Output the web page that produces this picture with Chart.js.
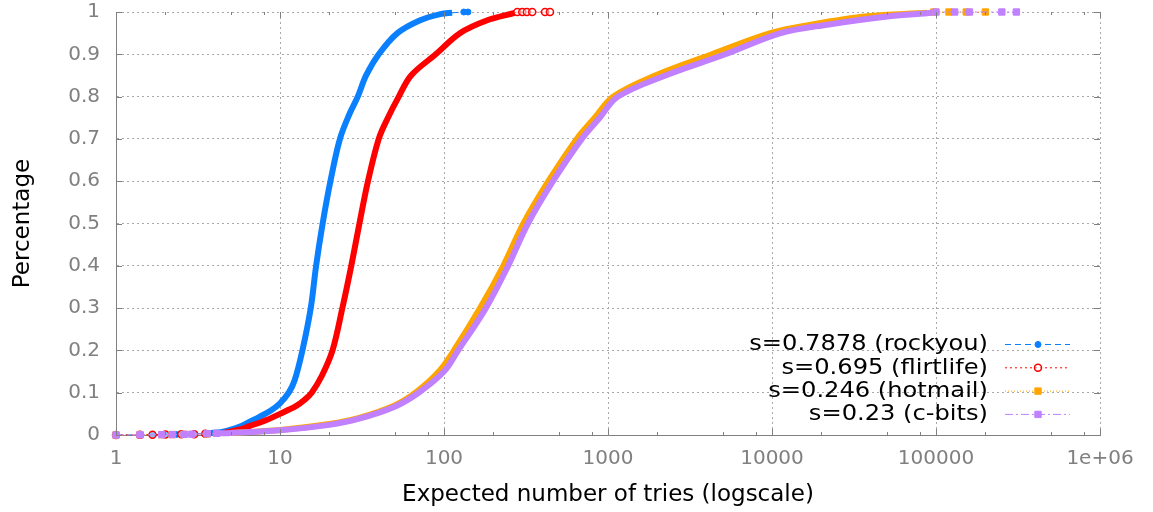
<!DOCTYPE html>
<html>
<head>
<meta charset="utf-8">
<script src="https://cdn.jsdelivr.net/npm/chart.js@4/dist/chart.umd.min.js"></script>
<style>
  html, body { margin: 0; padding: 0; background: #fff; }
  #wrap { width: 1153px; height: 512px; }
</style>
</head>
<body>
<div id="wrap"><canvas id="cdf"></canvas></div>
<script>
// tick labels
const xTickValues = [1, 10, 100, 1000, 10000, 100000, 1000000];
const xTickLabels = ['1', '10', '100', '1000', '10000', '100000', '1e+06'];
const yTickLabels = ['0', '0.1', '0.2', '0.3', '0.4', '0.5', '0.6', '0.7', '0.8', '0.9', '1'];

const seriesLabels = ['s=0.7878 (rockyou)', 's=0.695 (flirtlife)', 's=0.246 (hotmail)', 's=0.23 (c-bits)'];

// expected number of tries vs cumulative percentage
const rockyouTries = [1, 1.4, 1.67, 2, 2.33, 2.5, 3, 3.5, 4.5, 5.7, 6.5, 7.5, 8.8, 10, 11.3, 12.3, 13.7, 15.4, 16.6, 18.2, 20.3, 23.2, 26.6, 29.8, 33.5, 40, 52, 71, 95, 112, 132, 140];
const rockyouPct   = [0, 0.0003, 0.0006, 0.001, 0.0013, 0.0016, 0.0025, 0.004, 0.008, 0.02, 0.031, 0.043, 0.058, 0.075, 0.1, 0.13, 0.2, 0.3, 0.4, 0.5, 0.6, 0.7, 0.76, 0.8, 0.85, 0.9, 0.95, 0.98, 0.995, 0.998, 1, 1];

const flirtlifeTries = [1, 1.4, 1.67, 2, 2.5, 3, 3.5, 4.5, 5.7, 6.5, 8, 10, 12.5, 14, 15.6, 18, 20.9, 24, 27.2, 30.5, 34.4, 40, 45.5, 53, 63, 89, 125, 182, 270, 280, 300, 320, 345, 413, 443];
const flirtlifePct   = [0, 0.0003, 0.0006, 0.001, 0.0015, 0.002, 0.003, 0.005, 0.013, 0.021, 0.033, 0.05, 0.068, 0.082, 0.1, 0.14, 0.2, 0.3, 0.4, 0.5, 0.6, 0.7, 0.75, 0.8, 0.85, 0.9, 0.95, 0.98, 0.998, 1, 1, 1, 1, 1, 1];

const hotmailTries = [1, 1.4, 1.9, 2.2, 2.6, 3.6, 5, 10, 20, 30, 50, 67, 93, 115, 166, 230, 305, 433, 645, 830, 1075, 1940, 4300, 9770, 17200, 38000, 88300, 97000, 120000, 153000, 200000];
const hotmailPct   = [0, 0.0004, 0.0008, 0.001, 0.0015, 0.0025, 0.005, 0.012, 0.026, 0.04, 0.07, 0.1, 0.15, 0.2, 0.3, 0.4, 0.5, 0.6, 0.7, 0.75, 0.8, 0.85, 0.9, 0.95, 0.97, 0.99, 0.998, 1, 1, 1, 1];

const cbitsTries = [1, 1.4, 1.9, 2.2, 2.6, 2.9, 3.6, 4.1, 5, 10, 20, 30, 50, 70, 100, 122, 180, 246, 325, 462, 692, 890, 1150, 2240, 5190, 11300, 21700, 52000, 95000, 100000, 130000, 160000, 252000, 309000];
const cbitsPct   = [0, 0.0004, 0.0008, 0.001, 0.0015, 0.002, 0.003, 0.004, 0.005, 0.011, 0.024, 0.038, 0.067, 0.1, 0.15, 0.2, 0.3, 0.4, 0.5, 0.6, 0.7, 0.75, 0.8, 0.85, 0.9, 0.95, 0.97, 0.99, 0.998, 1, 1, 1, 1, 1];

const toPoints = (xs, ys) => xs.map((x, i) => ({ x: x, y: ys[i] }));

const styles = [
  { color: '#0a80ff', fill: '#0a80ff', point: 'circle', radius: 3, dash: [6, 4] },
  { color: '#ff0000', fill: 'rgba(255,255,255,0.5)', point: 'circle', radius: 3.5, dash: [2, 3] },
  { color: '#ffa500', fill: '#ffa500', point: 'rect', radius: 4.5, dash: [1, 2] },
  { color: '#c080ff', fill: '#c080ff', point: 'rect', radius: 4.5, dash: [8, 3, 2, 3] }
];

const thick = c => c.p0.parsed.y >= 0.004 && c.p1.parsed.y <= 0.9985;

function makeSet(label, pts, st, order) {
  return {
    label: label,
    data: pts,
    order: order,
    borderColor: st.color,
    backgroundColor: st.fill,
    borderWidth: 6,
    borderJoinStyle: 'round',
    tension: 0.35,
    pointStyle: st.point,
    pointBorderColor: st.color,
    pointBackgroundColor: st.fill,
    pointBorderWidth: st.point === 'circle' && st.fill !== st.color ? 1.5 : 1,
    pointRadius: c => (c.raw && (c.raw.y <= 0.004 || c.raw.y >= 0.999)) ? st.radius : 0,
    clip: 10,
    segment: {
      borderWidth: c => thick(c) ? 6 : 1,
      borderDash: c => thick(c) ? [] : st.dash
    }
  };
}

const innerTicks = {
  id: 'innerTicks',
  afterDraw(chart) {
    const { ctx, chartArea: a, scales } = chart;
    ctx.save();
    ctx.strokeStyle = '#808080';
    ctx.lineWidth = 1;
    ctx.beginPath();
    xTickValues.forEach(v => {
      const px = Math.round(scales.x.getPixelForValue(v)) + 0.5;
      ctx.moveTo(px, a.bottom); ctx.lineTo(px, a.bottom - 6);
      ctx.moveTo(px, a.top); ctx.lineTo(px, a.top + 6);
      if (v < 1000000) {
        [2, 5, 8].forEach(m => {
          const mx = Math.round(scales.x.getPixelForValue(v * m)) + 0.5;
          ctx.moveTo(mx, a.bottom); ctx.lineTo(mx, a.bottom - 3);
          ctx.moveTo(mx, a.top); ctx.lineTo(mx, a.top + 3);
        });
      }
    });
    for (let k = 0; k <= 10; k++) {
      const py = Math.round(scales.y.getPixelForValue(k / 10)) + 0.5;
      ctx.moveTo(a.left, py); ctx.lineTo(a.left + 6, py);
      ctx.moveTo(a.right, py); ctx.lineTo(a.right - 6, py);
    }
    ctx.stroke();
    ctx.restore();
  }
};

// gnuplot style key, inside the plot at the lower right
const keyBox = {
  id: 'keyBox',
  afterDraw(chart) {
    const { ctx, chartArea: a } = chart;
    ctx.save();
    chart.data.datasets.forEach((ds, i) => {
      const st = styles[i];
      const y = a.bottom - 91 + i * 23.3;
      ctx.save();
      ctx.translate(a.right - 112, y);
      ctx.scale(1.15, 1);
      ctx.font = '21px "DejaVu Sans"';
      ctx.fillStyle = '#000';
      ctx.textAlign = 'right';
      ctx.textBaseline = 'middle';
      ctx.fillText(ds.label, 0, 1);
      ctx.restore();
      ctx.strokeStyle = st.color;
      ctx.lineWidth = 1;
      ctx.setLineDash(st.dash);
      ctx.beginPath();
      ctx.moveTo(a.right - 95, y + 0.5);
      ctx.lineTo(a.right - 30, y + 0.5);
      ctx.stroke();
      ctx.setLineDash([]);
      ctx.fillStyle = st.fill;
      ctx.lineWidth = st.point === 'circle' && st.fill !== st.color ? 1.5 : 1;
      Chart.helpers.drawPoint(ctx, { pointStyle: st.point, radius: st.radius, rotation: 0, borderWidth: ctx.lineWidth }, a.right - 62, y + 0.5);
    });
    ctx.restore();
  }
};

const ctx = document.getElementById('cdf').getContext('2d');

new Chart(ctx, {
  type: 'line',
  data: {
    datasets: [
      makeSet(seriesLabels[0], toPoints(rockyouTries, rockyouPct), styles[0], 3),
      makeSet(seriesLabels[1], toPoints(flirtlifeTries, flirtlifePct), styles[1], 2),
      makeSet(seriesLabels[2], toPoints(hotmailTries, hotmailPct), styles[2], 1),
      makeSet(seriesLabels[3], toPoints(cbitsTries, cbitsPct), styles[3], 0)
    ]
  },
  options: {
    responsive: true,
    maintainAspectRatio: false,
    animation: false,
    events: [],
    layout: { padding: { top: 0, right: 53, bottom: 0, left: 0 } },
    plugins: {
      legend: { display: false },
      tooltip: { enabled: false }
    },
    scales: {
      x: {
        type: 'logarithmic',
        min: 1,
        max: 1000000,
        afterBuildTicks: s => { s.ticks = xTickValues.map(v => ({ value: v })); },
        afterFit: s => { s.height = 77; },
        ticks: {
          autoSkip: false,
          maxRotation: 0,
          padding: 12,
          color: '#808080',
          font: { family: 'DejaVu Sans', size: 20 },
          callback: v => xTickLabels[xTickValues.indexOf(v)]
        },
        grid: { color: '#a8a8a8', lineWidth: 1, drawTicks: false },
        border: { color: '#808080', width: 1, dash: [2, 3] },
        title: {
          display: true,
          text: 'Expected number of tries (logscale)',
          color: '#000',
          font: { family: 'DejaVu Sans', size: 23, lineHeight: 1.2 },
          padding: { bottom: 3 }
        }
      },
      y: {
        min: 0,
        max: 1,
        afterFit: s => { s.width = 116; s.paddingTop = 12; },
        ticks: {
          stepSize: 0.1,
          padding: 16,
          color: '#808080',
          font: { family: 'DejaVu Sans', size: 20 },
          callback: (v, i) => yTickLabels[i]
        },
        grid: { color: '#a8a8a8', lineWidth: 1, drawTicks: false },
        border: { color: '#808080', width: 1, dash: [2, 3] },
        title: {
          display: true,
          text: 'Percentage',
          color: '#000',
          font: { family: 'DejaVu Sans', size: 23, lineHeight: 1.2 },
          padding: { top: 9 }
        }
      }
    }
  },
  plugins: [innerTicks, keyBox]
});
</script>
</body>
</html>
